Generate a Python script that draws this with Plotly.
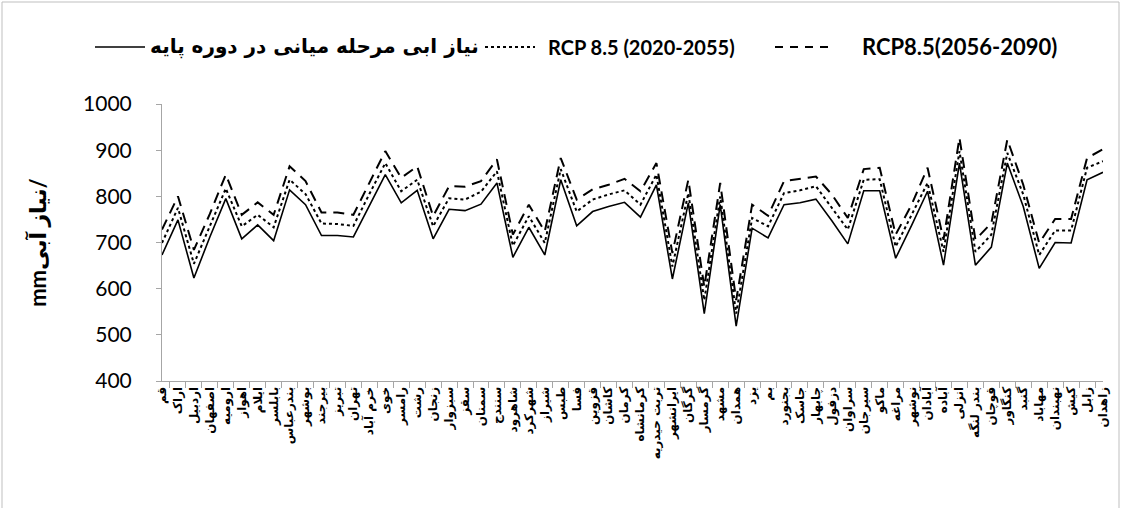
import plotly.graph_objects as go

stations = [
    "قم", "اراک", "اردبیل", "اصفهان", "ارومیه", "اهواز", "ایلام", "بابلسر", "بندرعباس", "بوشهر",
    "بیرجند", "تبریز", "تهران", "خرم آباد", "خوی", "رامسر", "رشت", "زنجان", "سبزوار", "سقز",
    "سمنان", "سنندج", "شاهرود", "شهرکرد", "شیراز", "طبس", "فسا", "قزوین", "کاشان", "کرمان",
    "کرمانشاه", "تربت حیدریه", "ایرانشهر", "گرگان", "گرمسار", "مشهد", "همدان", "یزد", "بم", "بجنورد",
    "جاسک", "چابهار", "دزفول", "سراوان", "سیرجان", "ماکو", "مراغه", "نوشهر", "آبادان", "آباده",
    "انزلی", "بندر لنگه", "قوچان", "کنگاور", "گنبد", "مهاباد", "نهبندان", "کیش", "زابل", "زاهدان",
]

base = [
    673, 749, 623, 712, 795, 708, 738, 704, 814, 782,
    715, 715, 712, 780, 847, 786, 813, 708, 772, 769,
    783, 829, 668, 733, 673, 836, 736, 767, 778, 787,
    755, 825, 621, 786, 546, 782, 519, 731, 710, 782,
    786, 794, 747, 697, 812, 812, 666, 737, 811, 651,
    872, 651, 690, 872, 778, 644, 700, 699, 836, 852,
]

rcp_2020_2055 = [
    699, 775, 654, 736, 817, 735, 760, 733, 836, 805,
    741, 740, 736, 805, 872, 811, 836, 735, 796, 793,
    810, 854, 693, 757, 699, 859, 767, 793, 804, 813,
    782, 847, 648, 807, 575, 800, 546, 753, 735, 807,
    813, 822, 775, 728, 836, 837, 691, 760, 829, 680,
    898, 680, 717, 894, 804, 673, 726, 726, 862, 876,
]

rcp_2056_2090 = [
    728, 800, 684, 762, 847, 760, 787, 760, 865, 833,
    765, 765, 760, 830, 898, 840, 865, 757, 822, 821,
    833, 880, 717, 782, 724, 883, 793, 815, 825, 838,
    811, 872, 677, 836, 604, 829, 575, 782, 758, 833,
    838, 843, 804, 753, 859, 862, 717, 782, 862, 706,
    927, 706, 742, 923, 825, 699, 751, 751, 883, 902,
]

series_names = [
    "نیاز ابی مرحله میانی در دوره پایه",
    "RCP 8.5 (2020-2055)",
    "RCP8.5(2056-2090)",
]
series_dash = ["solid", "dot", "11px,7px"]
key_dash = ["solid", "dot", "8px,7px"]
series_width = [1.6, 2, 2]
series_values = [base, rcp_2020_2055, rcp_2056_2090]

# plot area in pixels: x 162..1103, y 104..381
W, H = 1121, 508
L, R, T, B = 162, 18, 104, 127
pw, ph = W - L - R, H - T - B

def px(x):
    return (x - L) / pw

def py(y):
    return (H - B - y) / ph

fig = go.Figure()
for name, vals, dash, wd in zip(series_names, series_values, series_dash, series_width):
    fig.add_trace(go.Scatter(x=stations, y=vals, mode="lines", name=name,
                             line=dict(color="black", width=wd, dash=dash)))

# custom legend (keys + labels) placed above the plot
legend_keys = [(95, 145, 148), (485, 535, 546), (775, 830, 860)]
legend_fonts = [dict(size=20, family="DejaVu Sans, sans-serif", weight="bold", color="black"),
                dict(size=20, family="Lato, sans-serif", weight="bold", color="black"),
                dict(size=22, family="Lato, sans-serif", weight="bold", color="black")]
shapes = [dict(type="rect", xref="paper", yref="paper",
               x0=px(2), x1=px(1119), y0=py(520), y1=py(2),
               line=dict(color="#bfbfbf", width=1), fillcolor="rgba(0,0,0,0)", layer="below")]
annotations = []
ly = py(47)
for (k0, k1, tx), name, dash, wd, fnt in zip(legend_keys, series_names, key_dash, series_width, legend_fonts):
    shapes.append(dict(type="line", xref="paper", yref="paper", x0=px(k0), x1=px(k1), y0=ly, y1=ly,
                       line=dict(color="black", width=wd, dash=dash)))
    annotations.append(dict(xref="paper", yref="paper", x=px(tx), y=ly, xanchor="left", yanchor="middle",
                            text=name, showarrow=False, font=fnt))

fig.update_layout(
    width=W, height=H,
    margin=dict(l=L, r=R, t=T, b=B),
    paper_bgcolor="white", plot_bgcolor="white",
    font=dict(family="Lato, DejaVu Sans, sans-serif", color="black"),
    showlegend=False,
    shapes=shapes,
    annotations=annotations,
)

fig.update_xaxes(
    type="category", tickangle=-90, tickson="boundaries", automargin=False,
    ticks="outside", ticklen=6, tickcolor="#a6a6a6",
    showline=True, linecolor="#a6a6a6", linewidth=1,
    showgrid=False, zeroline=False,
    tickfont=dict(size=12, family="DejaVu Sans, sans-serif", color="black", weight="bold"),
)
fig.update_yaxes(
    range=[400, 1000], dtick=100, automargin=False,
    ticks="outside", ticklen=5, tickcolor="#a6a6a6", ticklabelstandoff=20,
    showline=True, linecolor="#a6a6a6", linewidth=1,
    showgrid=False, zeroline=False,
    tickfont=dict(size=21, family="Lato, sans-serif", color="black"),
    title=dict(text="mmنیاز آبی/", font=dict(size=22, family="Lato, DejaVu Sans, sans-serif", weight="bold"),
               standoff=30),
)

fig.write_html("out.html", config={"displayModeBar": False},
               post_script="document.body.style.margin='0';")
